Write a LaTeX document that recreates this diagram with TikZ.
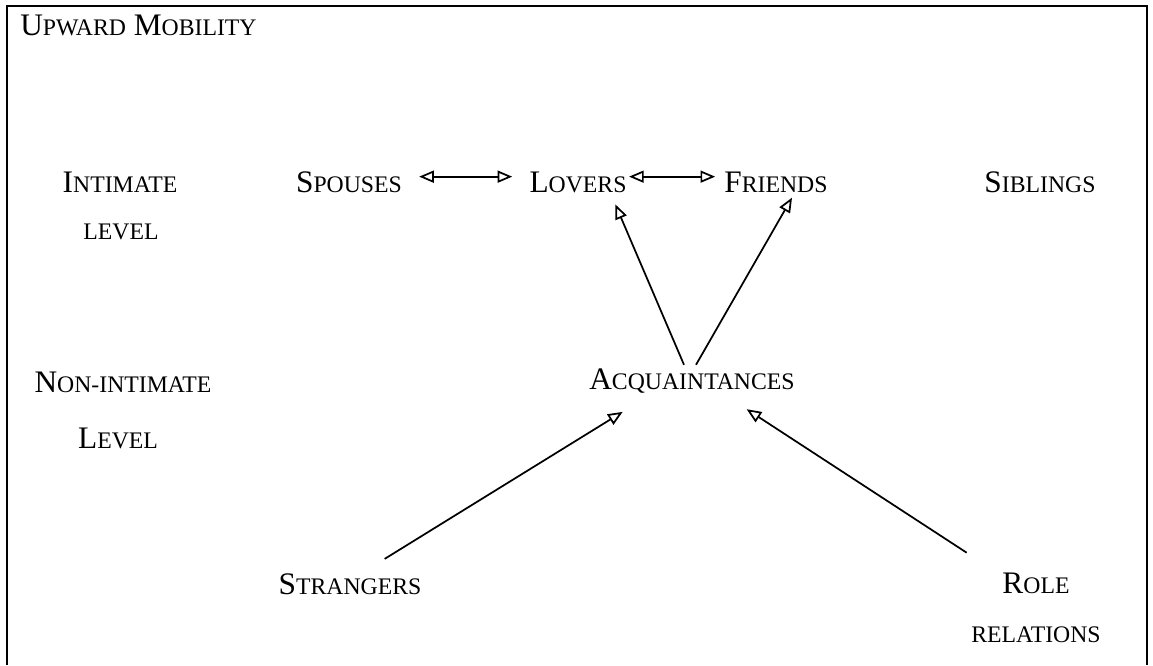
\documentclass[tikz,border=0pt]{standalone}
\usepackage{fontspec}
\setmainfont{Liberation Serif}
\usetikzlibrary{arrows.meta}

% fake small capitals
\newcommand{\scx}[1]{{\fontsize{17.8}{20}\selectfont #1}}

\tikzset{
  lbl/.style={inner sep=0.75pt, font=\fontsize{23.5}{27}\selectfont},
  arr/.style={line width=1.3pt, -{Triangle[open,length=11pt,width=9pt]}},
  biarr/.style={line width=1.3pt, {Triangle[open,length=11pt,width=9pt]}-{Triangle[open,length=11pt,width=9pt]}}
}

\begin{document}
\begin{tikzpicture}[x=0.75pt,y=0.75pt,yscale=-1,xscale=1]
	\useasboundingbox (0,0) rectangle (1153,665);

	%Frame, open at the bottom
	\draw [line width=1.6pt] (7,665) -- (7,6) -- (1147,6) -- (1147,665) ;

	% Text Node
	\node [lbl, anchor=west] (title) at (19,25) {U\scx{PWARD} M\scx{OBILITY}};

	% level labels
	\node [lbl] (intimate) at (120,182) {I\scx{NTIMATE}};
	\node [lbl] (intlevel) at (121,232) {\scx{LEVEL}};
	\node [lbl] (nonint) at (123,382) {N\scx{ON-INTIMATE}};
	\node [lbl] (nonlevel) at (118,438) {L\scx{EVEL}};

	% intimate relations
	\node [lbl] (spouses) at (349,182) {S\scx{POUSES}};
	\node [lbl] (lovers) at (578,182) {L\scx{OVERS}};
	\node [lbl] (friends) at (776,182) {F\scx{RIENDS}};
	\node [lbl] (siblings) at (1040,182) {S\scx{IBLINGS}};

	% non-intimate relations
	\node [lbl] (acq) at (692,381) {A\scx{CQUAINTANCES}};
	\node [lbl] (strangers) at (350,584) {S\scx{TRANGERS}};
	\node [lbl] (role) at (1036,583) {R\scx{OLE}};
	\node [lbl] (relations) at (1036,635) {\scx{RELATIONS}};

	% Straight Lines
	\draw [biarr] ([xshift=12pt,yshift=-4pt]spouses.east) -- ([xshift=-12pt,yshift=-4pt]lovers.west) ;
	\draw [biarr] ([xshift=1pt,yshift=-4pt]lovers.east) -- ([xshift=-6pt,yshift=-4pt]friends.west) ;
	\draw [arr] ([xshift=-6pt,yshift=-2pt]acq.north) -- ([xshift=28pt,yshift=8pt]lovers.south) ;
	\draw [arr] ([xshift=3pt,yshift=-2pt]acq.north) -- ([xshift=12pt,yshift=3pt]friends.south) ;
	\draw [arr] ([xshift=26pt,yshift=-10pt]strangers.north) -- ([xshift=-52pt,yshift=13pt]acq.south) ;
	\draw [arr] ([xshift=-52pt,yshift=-14pt]role.north) -- ([xshift=41pt,yshift=11pt]acq.south) ;

\end{tikzpicture}
\end{document}
